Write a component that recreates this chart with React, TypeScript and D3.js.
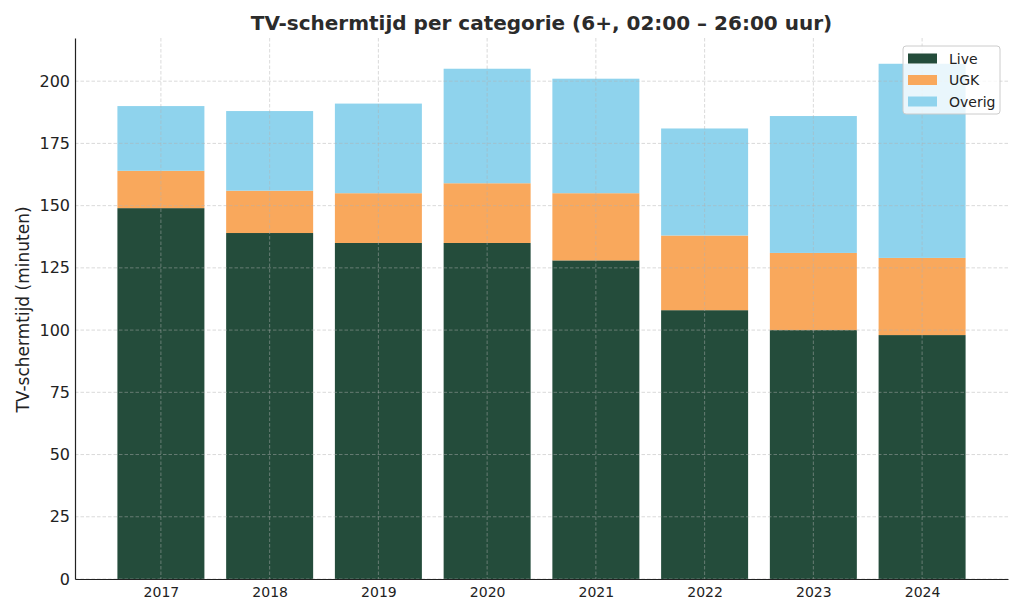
import { useEffect, useRef } from 'react';
import * as d3 from 'd3';

const years = ['2017', '2018', '2019', '2020', '2021', '2022', '2023', '2024'];
const live = [149, 139, 135, 135, 128, 108, 100, 98];
const ugk = [15, 17, 20, 24, 27, 30, 31, 31];
const overig = [26, 32, 36, 46, 46, 43, 55, 78];
const seriesNames = ['Live', 'UGK', 'Overig'];
const colors = ['#244c3b', '#f9a85c', '#8fd3ed'];
const yTicks = [0, 25, 50, 75, 100, 125, 150, 175, 200];

export default function App() {
    const svgRef = useRef<SVGSVGElement>(null);

    useEffect(() => {
        if (!svgRef.current) return;
        document.body.style.margin = '0';

        const width = 1024;
        const height = 614;
        const margin = { top: 38, right: 16, bottom: 35, left: 75 };
        const font = 'DejaVu Sans, sans-serif';

        d3.select(svgRef.current).selectAll('*').remove();
        const svg = d3.select(svgRef.current)
            .attr('width', width)
            .attr('height', height)
            .style('font-family', font);

        const chartWidth = width - margin.left - margin.right;
        const chartHeight = height - margin.top - margin.bottom;

        const g = svg.append('g')
            .attr('transform', `translate(${margin.left},${margin.top})`);

        const rows = years.map((year, i) => ({ year, Live: live[i], UGK: ugk[i], Overig: overig[i] }));
        const stacked = d3.stack<any>().keys(seriesNames)(rows);
        const maxTotal = d3.max(rows, d => d.Live + d.UGK + d.Overig) || 0;

        // band layout like matplotlib: bar width 0.8, 5% margins
        const x = d3.scaleLinear()
            .domain([-0.4 - 0.39, years.length - 1 + 0.4 + 0.39])
            .range([0, chartWidth]);
        const step = x(1) - x(0);
        const barWidth = step * 0.8;

        const y = d3.scaleLinear()
            .domain([0, maxTotal * 1.05])
            .range([chartHeight, 0]);

        // Bars
        stacked.forEach((layer, si) => {
            g.append('g')
                .selectAll('rect')
                .data(layer)
                .enter()
                .append('rect')
                .attr('x', (_, i) => x(i) - barWidth / 2)
                .attr('width', barWidth)
                .attr('y', d => y(d[1]))
                .attr('height', d => y(d[0]) - y(d[1]))
                .attr('fill', colors[si]);
        });

        // Grid lines (drawn over bars)
        const grid = g.append('g').attr('stroke', '#b0b0b0').attr('stroke-opacity', 0.6)
            .attr('stroke-width', 0.8).attr('stroke-dasharray', '3.5,2');
        grid.selectAll('.hg')
            .data(yTicks)
            .enter()
            .append('line')
            .attr('x1', 0)
            .attr('x2', chartWidth)
            .attr('y1', d => y(d))
            .attr('y2', d => y(d));
        grid.selectAll('.vg')
            .data(years)
            .enter()
            .append('line')
            .attr('x1', (_, i) => x(i))
            .attr('x2', (_, i) => x(i))
            .attr('y1', 0)
            .attr('y2', chartHeight);

        // Y axis
        const yAxis = g.append('g')
            .call(d3.axisLeft(y).tickValues(yTicks).tickSize(0).tickPadding(5));
        yAxis.select('.domain').attr('stroke', '#222').attr('stroke-width', 1.2);
        yAxis.selectAll('text')
            .attr('fill', '#222')
            .style('font-family', font)
            .style('font-size', '16px');

        // X axis
        const xAxis = g.append('g')
            .attr('transform', `translate(0,${chartHeight})`)
            .call(d3.axisBottom(x).tickValues(d3.range(years.length)).tickFormat(i => years[+i]).tickSize(0).tickPadding(8));
        xAxis.select('.domain').attr('stroke', '#222').attr('stroke-width', 1.2);
        xAxis.selectAll('text')
            .attr('fill', '#222')
            .style('font-family', font)
            .style('font-size', '14px');

        // Title
        svg.append('text')
            .attr('x', margin.left + chartWidth / 2)
            .attr('y', 30)
            .attr('text-anchor', 'middle')
            .attr('fill', '#2b2b2b')
            .style('font-size', '20px')
            .style('font-weight', 'bold')
            .text('TV-schermtijd per categorie (6+, 02:00 – 26:00 uur)');

        // Y label
        svg.append('text')
            .attr('transform', `translate(29,${margin.top + chartHeight / 2 + 1}) rotate(-90)`)
            .attr('text-anchor', 'middle')
            .attr('fill', '#222')
            .style('font-size', '17px')
            .text('TV-schermtijd (minuten)');

        // Legend
        const legend = svg.append('g').attr('transform', 'translate(903,46)');
        legend.append('rect')
            .attr('width', 97)
            .attr('height', 68)
            .attr('rx', 3)
            .attr('fill', 'white')
            .attr('fill-opacity', 0.8)
            .attr('stroke', '#cccccc');
        seriesNames.forEach((name, i) => {
            const row = legend.append('g').attr('transform', `translate(5,${12.5 + i * 21.5})`);
            row.append('rect')
                .attr('x', 0)
                .attr('y', -5)
                .attr('width', 29)
                .attr('height', 10)
                .attr('fill', colors[i]);
            row.append('text')
                .attr('x', 41)
                .attr('y', 5)
                .attr('fill', '#222')
                .style('font-size', '14px')
                .text(name);
        });
    }, []);

    return <svg ref={svgRef}></svg>;
}
